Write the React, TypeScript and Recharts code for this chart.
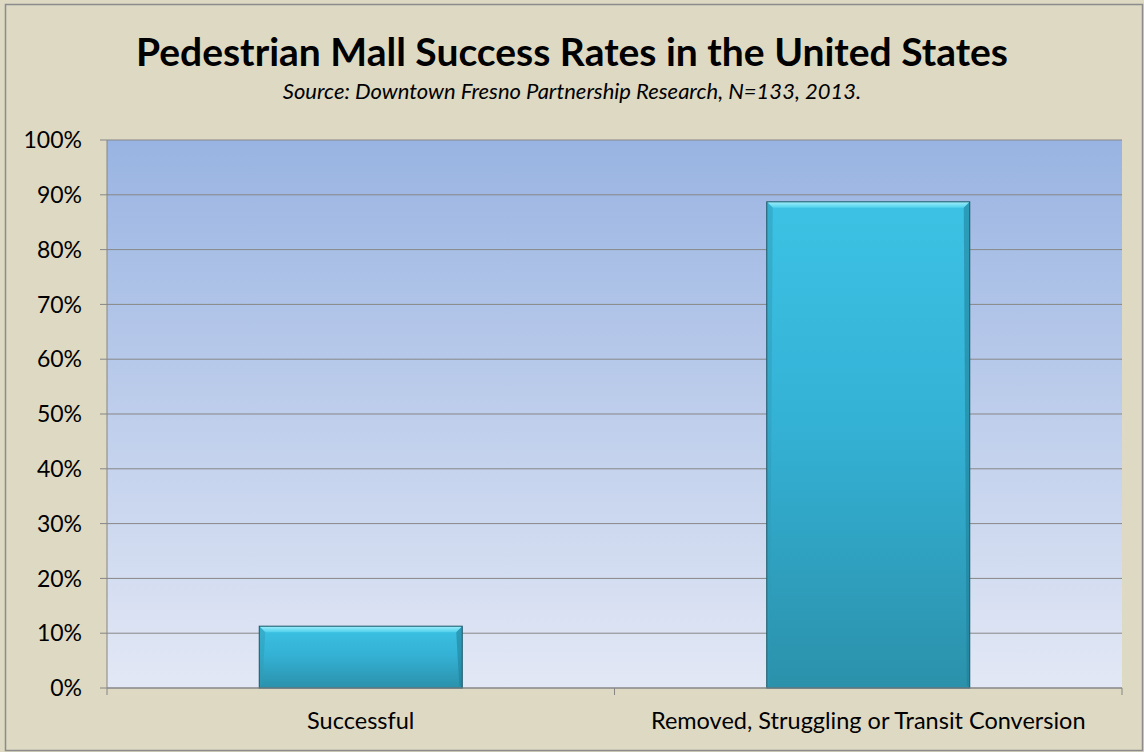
import { BarChart, Bar, XAxis, YAxis, CartesianGrid } from 'recharts';

const categories = ['Successful', 'Removed, Struggling or Transit Conversion'];
const shares = [11.28, 88.72];
const yTicks = [0, 10, 20, 30, 40, 50, 60, 70, 80, 90, 100];

const data = categories.map((name, i) => ({ name, value: shares[i] }));

const FONT = "Lato, 'Open Sans', sans-serif";

function BevelBar(props: any) {
  const { x, y, width, height } = props;
  if (!height || height <= 0) return null;
  const b = 6;
  return (
    <g>
      <rect x={x} y={y} width={width} height={height} fill="url(#barFill)" />
      {/* top bevel highlight */}
      <path
        d={`M${x},${y} L${x + width},${y} L${x + width - b},${y + b} L${x + b},${y + b} Z`}
        fill="url(#bevelTop)"
      />
      <path
        d={`M${x + width},${y} L${x + width},${y + height} L${x + width - 3},${y + height - 3} L${x + width - b},${y + b} Z`}
        fill="#1f7d96"
        opacity={0.55}
      />
      <path
        d={`M${x},${y} L${x + b},${y + b} L${x + 3},${y + height - 3} L${x},${y + height} Z`}
        fill="#2f9cb8"
        opacity={0.5}
      />
      <rect x={x} y={y} width={width} height={height} fill="none" stroke="#1c5768" strokeWidth={1} />
    </g>
  );
}

function CategoryTick(props: any) {
  const { x, y, payload } = props;
  const half = payload && payload.offset ? payload.offset : 253.75;
  const axisY = y - 10;
  return (
    <g>
      <line x1={x - half} y1={axisY} x2={x - half} y2={axisY + 7} stroke="#868686" />
      <line x1={x + half} y1={axisY} x2={x + half} y2={axisY + 7} stroke="#868686" />
      <text x={x} y={axisY + 41} textAnchor="middle" fontSize={23.5} fill="#000" fontFamily={FONT}>
        {payload.value}
      </text>
    </g>
  );
}

export default function App() {
  return (
    <div style={{ position: 'absolute', left: 0, top: 0, width: 1144, height: 752, background: '#ddd9c3' }}>
      <svg width={1144} height={752} style={{ position: 'absolute', left: 0, top: 0 }}>
        <rect x={5.5} y={4.5} width={1137} height={746} fill="#ddd9c3" stroke="#8c8c8c" strokeWidth={1.5} />
        <text x={572} y={66} textAnchor="middle" fontSize={39} fontWeight={700} fill="#000" fontFamily={FONT}>
          Pedestrian Mall Success Rates in the United States
        </text>
        <text x={572} y={99} textAnchor="middle" fontSize={22} fontStyle="italic" fill="#000" fontFamily={FONT}>
          Source: Downtown Fresno Partnership Research, N=133, 2013.
        </text>
      </svg>
      <div style={{ position: 'absolute', left: 0, top: 0 }}>
        <BarChart
          width={1144}
          height={752}
          data={data}
          margin={{ top: 140, right: 22, bottom: 14, left: 0 }}
          barCategoryGap="30%"
        >
          <defs>
            <linearGradient id="plotBg" x1="0" y1="0" x2="0" y2="1">
              <stop offset="0%" stopColor="#99b4e2" />
              <stop offset="100%" stopColor="#e3e8f5" />
            </linearGradient>
            <linearGradient id="barFill" x1="0" y1="0" x2="0" y2="1">
              <stop offset="0%" stopColor="#3cc2e4" />
              <stop offset="45%" stopColor="#34b2d6" />
              <stop offset="100%" stopColor="#2b91ab" />
            </linearGradient>
            <linearGradient id="bevelTop" x1="0" y1="0" x2="0" y2="1">
              <stop offset="0%" stopColor="#9ff0fb" />
              <stop offset="100%" stopColor="#4fd0ec" />
            </linearGradient>
          </defs>
          <CartesianGrid vertical={false} stroke="#878787" strokeWidth={1} fill="url(#plotBg)" fillOpacity={1} />
          <XAxis
            dataKey="name"
            height={50}
            axisLine={{ stroke: '#868686' }}
            tickLine={false}
            tickSize={7}
            tickMargin={3}
            tick={<CategoryTick />}
            interval={0}
          />
          <YAxis
            width={107}
            domain={[0, 100]}
            ticks={yTicks}
            tickFormatter={(v: number) => `${v}%`}
            axisLine={{ stroke: '#868686' }}
            tickLine={{ stroke: '#868686' }}
            tickSize={7}
            tickMargin={18}
            tick={{ fontSize: 23, fill: '#000', fontFamily: FONT }}
            interval={0}
          />
          <Bar dataKey="value" shape={<BevelBar />} isAnimationActive={false} />
        </BarChart>
      </div>
    </div>
  );
}
